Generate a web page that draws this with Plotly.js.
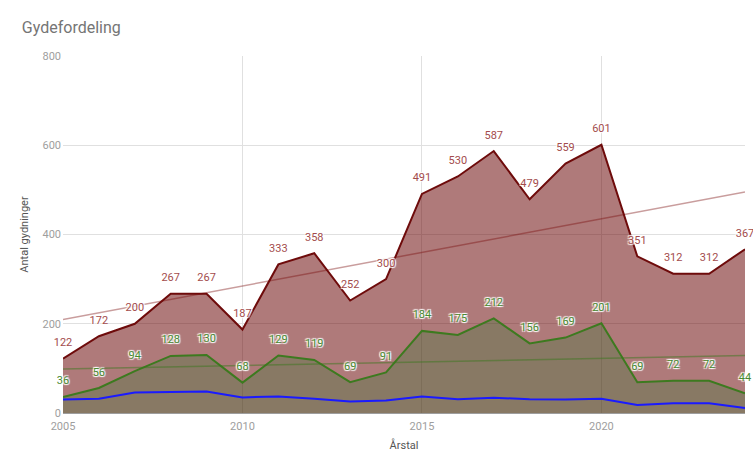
<!DOCTYPE html>
<html>
<head>
<meta charset="utf-8">
<script src="https://cdn.plot.ly/plotly-3.0.1.min.js"></script>
<style>
  html, body { margin: 0; padding: 0; background: #fff; }
  #chart { width: 753px; height: 457px; }
</style>
</head>
<body>
<div id="chart"></div>
<script>
// data
var years = [2005, 2006, 2007, 2008, 2009, 2010, 2011, 2012, 2013, 2014,
             2015, 2016, 2017, 2018, 2019, 2020, 2021, 2022, 2023, 2024];
var total = [122, 172, 200, 267, 267, 187, 333, 358, 252, 300,
             491, 530, 587, 479, 559, 601, 351, 312, 312, 367];
var green = [36, 56, 94, 128, 130, 68, 129, 119, 69, 91,
             184, 175, 212, 156, 169, 201, 69, 72, 72, 44];
var blue = [30, 32, 46, 47, 48, 35, 37, 32, 26, 28,
            37, 31, 34, 31, 30, 32, 18, 22, 22, 11];
var yTicks = [0, 200, 400, 600, 800];
var xTicks = [2005, 2010, 2015, 2020];

// least squares trend, like the sheet's trendline
function trend(xs, ys) {
  var n = xs.length, sx = 0, sy = 0, sxy = 0, sxx = 0;
  for (var i = 0; i < n; i++) {
    sx += xs[i]; sy += ys[i]; sxy += xs[i] * ys[i]; sxx += xs[i] * xs[i];
  }
  var b = (n * sxy - sx * sy) / (n * sxx - sx * sx);
  var a = (sy - b * sx) / n;
  return xs.map(function (x) { return a + b * x; });
}

var shadow = '1px 1px 1px #fff, -1px -1px 1px #fff, 1px -1px 1px #fff, -1px 1px 1px #fff';

var traces = [
  {x: years, y: total, type: 'scatter', mode: 'lines', fill: 'tozeroy',
   fillcolor: 'rgba(102,0,0,0.52)', line: {color: '#6e0b0b', width: 2}},
  {x: years, y: green, type: 'scatter', mode: 'lines', fill: 'tozeroy',
   fillcolor: 'rgba(46,120,49,0.3)', line: {color: '#3d7a1f', width: 2}},
  {x: years, y: blue, type: 'scatter', mode: 'lines',
   line: {color: '#1a1aff', width: 2}},
  {x: years, y: trend(years, total), type: 'scatter', mode: 'lines',
   line: {color: 'rgba(120,10,10,0.4)', width: 1.5}},
  {x: years, y: trend(years, green), type: 'scatter', mode: 'lines',
   line: {color: 'rgba(60,120,30,0.5)', width: 1.5}},
  {x: years, y: total, type: 'scatter', mode: 'markers+text',
   text: total.map(String), textposition: 'top center', cliponaxis: false,
   marker: {size: 14, opacity: 0},
   textfont: {family: 'Roboto, sans-serif', size: 11, color: '#a34c4c', shadow: shadow}},
  {x: years, y: green, type: 'scatter', mode: 'markers+text',
   text: green.map(String), textposition: 'top center', cliponaxis: false,
   marker: {size: 14, opacity: 0},
   textfont: {family: 'Roboto, sans-serif', size: 11, color: '#4a8a32', shadow: shadow}}
];

var layout = {
  width: 753, height: 457,
  margin: {l: 63, r: 8, t: 56, b: 44},
  paper_bgcolor: '#fff', plot_bgcolor: '#fff',
  showlegend: false,
  hovermode: false,
  font: {family: 'Roboto, sans-serif', color: '#9e9e9e', size: 11},
  title: {text: 'Gydefordeling', x: 0.029, xanchor: 'left', y: 0.94, yanchor: 'middle',
          font: {family: 'Roboto, sans-serif', size: 16, color: '#757575'}},
  xaxis: {range: [2005, 2024], tickvals: xTicks, ticktext: xTicks.map(String),
          showgrid: true, gridcolor: '#e0e0e0', zeroline: false, showline: false,
          ticks: '', ticklabelstandoff: 5, tickfont: {size: 11, color: '#9e9e9e'},
          title: {text: 'Årstal', standoff: 9, font: {size: 11, color: '#555'}}},
  yaxis: {range: [0, 800], tickvals: yTicks, ticktext: yTicks.map(String),
          showgrid: true, gridcolor: '#e0e0e0', zeroline: true, zerolinecolor: '#9e9e9e',
          zerolinewidth: 1, showline: false, ticks: '', ticklabelstandoff: 1,
          tickfont: {size: 11, color: '#9e9e9e'},
          title: {text: 'Antal gydninger', standoff: 11, font: {size: 11, color: '#555'}}}
};

Plotly.newPlot('chart', traces, layout, {displayModeBar: false, staticPlot: true});
</script>
</body>
</html>
